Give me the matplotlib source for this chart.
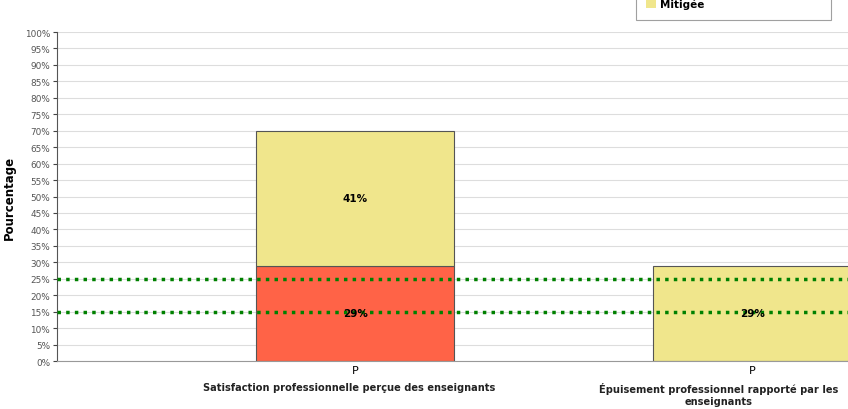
import matplotlib.pyplot as plt
import numpy as np

categories = ["Satisfaction professionnelle perçue des enseignants",
              "Épuisement professionnel rapporté par les\nenseignants"]
tick_labels = ["P", "P"]
red_vals = [29, 0]
yellow_vals = [41, 29]
thresholds = [15, 25]
label_shift = [-6, -34]  # category labels are not quite centred on the bars

fig = plt.figure(figsize=(8.48, 4.10), dpi=100)
ax = fig.add_axes([0.0672, 0.117, 0.9328, 0.8025])

x = np.arange(len(categories))
w = 0.5
ax.bar(x, red_vals, w, color="#FF6347", edgecolor="#555555", linewidth=0.8, label="Insatisfaisante", zorder=2)
ax.bar(x, yellow_vals, w, bottom=red_vals, color="#F0E68C", edgecolor="#555555", linewidth=0.8, label="Mitigée", zorder=2)

for i in range(len(categories)):
    if red_vals[i] > 0:
        ax.text(x[i], red_vals[i] / 2, f"{red_vals[i]}%", ha="center", va="center",
                fontsize=7.5, fontweight="bold", zorder=4)
    if yellow_vals[i] > 0:
        ax.text(x[i], red_vals[i] + yellow_vals[i] / 2, f"{yellow_vals[i]}%", ha="center",
                va="center", fontsize=7.5, fontweight="bold", zorder=4)

for t in thresholds:
    ax.axhline(t, color="green", linestyle=(0, (1, 1.5)), linewidth=2.5, zorder=3)

ax.set_xlim(-0.75, 1.24)
ax.set_ylim(0, 100)
ax.set_yticks(range(0, 101, 5))
ax.set_yticklabels([f"{v}%" for v in range(0, 101, 5)], fontsize=6.4, color="#555555")
ax.set_xticks(x)
ax.set_xticklabels(tick_labels, fontsize=8)
ax.tick_params(axis="x", length=0, pad=3)
ax.tick_params(axis="y", length=3, color="#444444", pad=2)
for i, c in enumerate(categories):
    ax.annotate(c, xy=(x[i], 0), xycoords=("data", "axes fraction"), xytext=(label_shift[i], -21),
                textcoords="offset pixels", ha="center", va="top", fontsize=7.1, fontweight="bold",
                color="#222222", linespacing=1.2)
ax.yaxis.grid(True, color="#dddddd", linewidth=0.8, zorder=0)
ax.set_axisbelow(True)
ax.spines["top"].set_visible(False)
ax.spines["right"].set_visible(False)
ax.spines["left"].set_color("#555555")
ax.spines["bottom"].set_color("#999999")
ax.set_ylabel("Pourcentage", fontsize=8.5, fontweight="bold", labelpad=6)

h, l = ax.get_legend_handles_labels()
leg = fig.legend([h[1]], [l[1]], loc="lower left", bbox_to_anchor=(0.75, 0.949, 0.23, 0.06),
                 mode="expand", prop={"weight": "bold", "size": 7.5}, frameon=True,
                 fancybox=False, edgecolor="#888888", handlelength=0.9, handleheight=0.9,
                 borderpad=1.0, handletextpad=0.4, borderaxespad=0)
leg.get_frame().set_linewidth(0.8)
leg.legend_handles[0].set_edgecolor("none")

fig.savefig("out.png", dpi=100)
